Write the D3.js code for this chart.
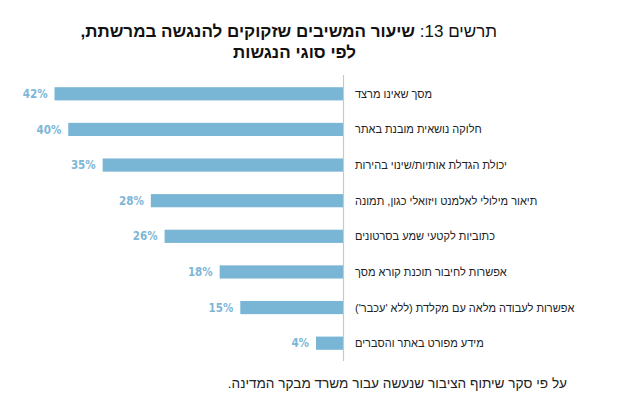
<!DOCTYPE html>
<html lang="he">
<head>
<meta charset="utf-8">
<script src="https://cdn.jsdelivr.net/npm/d3@7"></script>
<style>
  html, body { margin: 0; padding: 0; background: #fff; }
  svg { display: block; font-family: "Liberation Sans", Arial, "DejaVu Sans", sans-serif; }
</style>
</head>
<body>
<svg id="chart" width="629" height="400"></svg>
<script>
const categories = [
  "מסך שאינו מרצד",
  "חלוקה נושאית מובנת באתר",
  "יכולת הגדלת אותיות/שינוי בהירות",
  "תיאור מילולי לאלמנט ויזואלי כגון, תמונה",
  "כתוביות לקטעי שמע בסרטונים",
  "אפשרות לחיבור תוכנת קורא מסך",
  "אפשרות לעבודה מלאה עם מקלדת (ללא 'עכבר')",
  "מידע מפורט באתר והסברים"
];
const values = [42, 40, 35, 28, 26, 18, 15, 4];
const titlePrefix = "תרשים 13: ";
const titleLine1 = "שיעור המשיבים שזקוקים להנגשה במרשתת,";
const titleLine2 = "לפי סוגי הנגשות";
const footnote = "על פי סקר שיתוף הציבור שנעשה עבור משרד מבקר המדינה.";

const svg = d3.select("#chart");
const axisX = 343.5;

const x = d3.scaleLinear().domain([0, 42]).range([axisX, 54.5]);
const y = d3.scaleBand().domain(categories).range([76, 361]).paddingInner(0.63).paddingOuter(0.315);

// title (RTL)
const t1 = svg.append("text").attr("x", 497).attr("y", 37)
  .attr("direction", "rtl").attr("text-anchor", "start")
  .attr("font-size", 17).attr("fill", "#111");
t1.append("tspan").text(titlePrefix);
t1.append("tspan").attr("font-weight", "bold").text(titleLine1);
svg.append("text").attr("x", 356).attr("y", 58)
  .attr("direction", "rtl").attr("text-anchor", "start")
  .attr("font-size", 17).attr("font-weight", "bold").attr("fill", "#111")
  .text(titleLine2);

// bars
svg.selectAll("rect.bar").data(values).join("rect").attr("class", "bar")
  .attr("x", (d) => x(d)).attr("width", (d) => x(0) - x(d))
  .attr("y", (_, i) => y(categories[i])).attr("height", y.bandwidth())
  .attr("fill", "#79b5d5");

// value labels
svg.selectAll("text.value").data(values).join("text").attr("class", "value")
  .attr("x", (d) => x(d) - 7).attr("y", (_, i) => y(categories[i]) + y.bandwidth() / 2)
  .attr("dy", "0.36em").attr("text-anchor", "end")
  .attr("font-family", "'Liberation Sans Narrow', 'DejaVu Sans Condensed', sans-serif")
  .attr("font-size", 11.5).attr("font-weight", "bold").attr("fill", "#7db6d6")
  .text((d) => `${d}%`);

// axis line
svg.append("line").attr("x1", axisX).attr("x2", axisX).attr("y1", 75).attr("y2", 361)
  .attr("stroke", "#c8c8c8").attr("stroke-width", 1.2);

// category labels
svg.selectAll("text.cat").data(categories).join("text").attr("class", "cat")
  .attr("x", 355).attr("y", (d) => y(d) + y.bandwidth() / 2)
  .attr("dy", "0.36em").attr("direction", "rtl").attr("text-anchor", "end")
  .attr("font-size", 11).attr("fill", "#222")
  .text((d) => d);

// footnote
svg.append("text").attr("x", 567).attr("y", 388)
  .attr("direction", "rtl").attr("text-anchor", "start")
  .attr("font-size", 13.6).attr("fill", "#222")
  .text(footnote);
</script>
</body>
</html>
